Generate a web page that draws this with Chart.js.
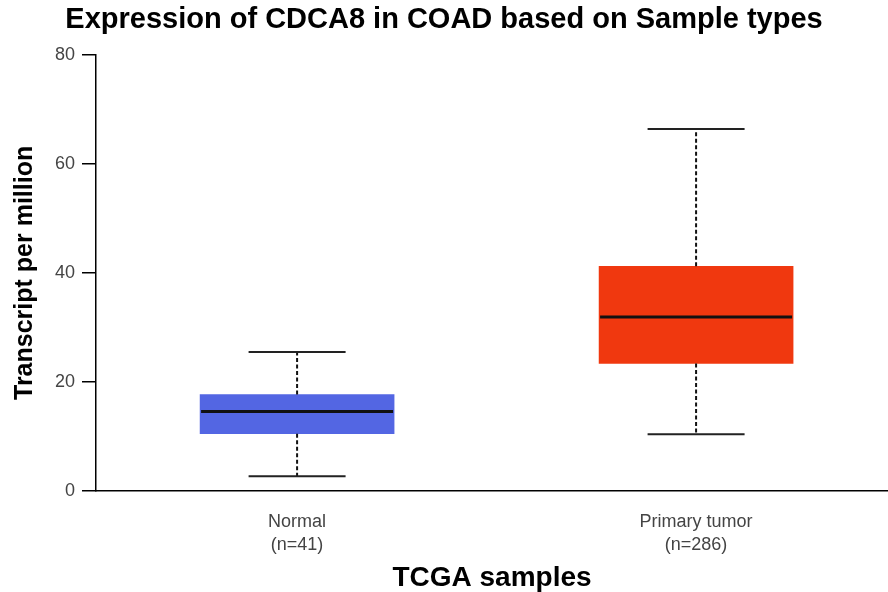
<!DOCTYPE html>
<html>
<head>
<meta charset="utf-8">
<script src="https://cdn.jsdelivr.net/npm/chart.js@4/dist/chart.umd.min.js"></script>
<style>
  html, body { margin: 0; padding: 0; background: #ffffff; }
  canvas { display: block; }
</style>
</head>
<body>
<canvas id="chart" width="888" height="592"></canvas>
<script>
// ---- Data ----
const categories   = [['Normal', '(n=41)'], ['Primary tumor', '(n=286)']];
const positions    = [1, 2];
const whiskerLow   = [2.7, 10.4];
const q1           = [10.5, 23.4];
const median       = [14.6, 31.9];
const q3           = [17.7, 41.2];
const whiskerHigh  = [25.5, 66.4];
const boxColors    = ['#5366E3', '#F0380F'];
const yMin = 0, yMax = 80, yStep = 20;

const FONT = "'Liberation Sans', Arial, Helvetica, sans-serif";

// Draw whiskers, caps and median lines using the library's scales
const boxplotExtras = {
  id: 'boxplotExtras',
  afterDatasetsDraw(chart) {
    const ctx = chart.ctx;
    const y = chart.scales.y;
    const meta = chart.getDatasetMeta(0);
    meta.data.forEach((bar, i) => {
      const cx = bar.x;
      const half = bar.width / 2;
      const capHalf = bar.width / 4;
      const pLow = y.getPixelForValue(whiskerLow[i]);
      const pQ1 = y.getPixelForValue(q1[i]);
      const pMed = y.getPixelForValue(median[i]);
      const pQ3 = y.getPixelForValue(q3[i]);
      const pHigh = y.getPixelForValue(whiskerHigh[i]);
      ctx.save();
      // dashed whiskers
      ctx.strokeStyle = '#111';
      ctx.lineWidth = 2;
      ctx.setLineDash([4, 2.5]);
      ctx.beginPath();
      ctx.moveTo(cx, pQ3); ctx.lineTo(cx, pHigh);
      ctx.moveTo(cx, pQ1); ctx.lineTo(cx, pLow);
      ctx.stroke();
      // caps
      ctx.setLineDash([]);
      ctx.strokeStyle = '#222';
      ctx.lineWidth = 2;
      ctx.beginPath();
      ctx.moveTo(cx - capHalf, pHigh); ctx.lineTo(cx + capHalf, pHigh);
      ctx.moveTo(cx - capHalf, pLow); ctx.lineTo(cx + capHalf, pLow);
      ctx.stroke();
      // median
      ctx.strokeStyle = '#111';
      ctx.lineWidth = 3;
      ctx.beginPath();
      ctx.moveTo(cx - half + 1, pMed); ctx.lineTo(cx + half - 1, pMed);
      ctx.stroke();
      ctx.restore();
    });
  }
};

new Chart(document.getElementById('chart'), {
  type: 'bar',
  data: {
    datasets: [{
      data: positions.map((p, i) => ({ x: p, y: [q1[i], q3[i]] })),
      backgroundColor: boxColors,
      borderWidth: 0,
      borderSkipped: false,
      barThickness: 194
    }]
  },
  options: {
    responsive: false,
    animation: false,
    layout: { padding: { left: 0, right: 0, top: 0, bottom: 0 } },
    plugins: {
      legend: { display: false },
      tooltip: { enabled: false },
      title: {
        display: true,
        text: 'Expression of CDCA8 in COAD based on Sample types',
        color: '#000',
        font: { family: FONT, size: 29, weight: 'bold', lineHeight: 1.2 },
        padding: { top: 3, bottom: 17 }
      }
    },
    scales: {
      x: {
        type: 'linear',
        offset: false,
        min: 0.496,
        max: 2.481,
        afterBuildTicks: s => { s.ticks = positions.map(v => ({ value: v })); },
        afterFit: s => { s.height = 101; },
        ticks: {
          autoSkip: false,
          maxRotation: 0,
          padding: 20,
          color: '#444',
          font: { family: FONT, size: 18, lineHeight: 1.25 },
          callback: v => categories[positions.indexOf(v)]
        },
        grid: { display: false, drawTicks: false, offset: false },
        border: { display: true, color: '#000', width: 1.5 },
        title: {
          display: true,
          text: 'TCGA samples',
          color: '#000',
          font: { family: FONT, size: 28, weight: 'bold', lineHeight: 1.0 },
          padding: { top: 0, bottom: 0 }
        }
      },
      y: {
        min: yMin,
        max: yMax,
        afterFit: s => { s.width = 96; },
        ticks: {
          stepSize: yStep,
          padding: 7,
          color: '#444',
          font: { family: FONT, size: 18 }
        },
        grid: { drawOnChartArea: false, drawTicks: true, tickLength: 14, color: '#000', lineWidth: 1.5 },
        border: { display: true, color: '#000', width: 1.5 },
        title: {
          display: true,
          text: 'Transcript per million',
          color: '#000',
          font: { family: FONT, size: 25, weight: 'bold', lineHeight: 1.2 },
          padding: { top: 10, bottom: 0 }
        }
      }
    }
  },
  plugins: [boxplotExtras]
});
</script>
</body>
</html>
